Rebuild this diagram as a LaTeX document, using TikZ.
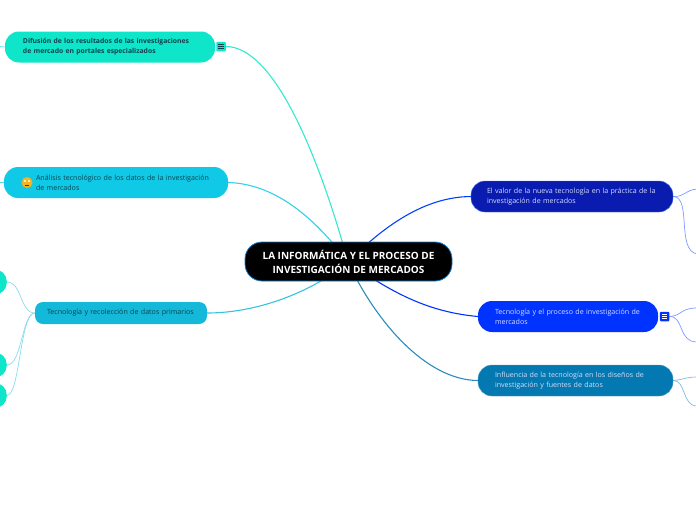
\documentclass[tikz,border=0pt]{standalone}
\usepackage{fontspec}
\setmainfont{Open Sans}
\usepackage{xcolor}
\usetikzlibrary{positioning, calc, backgrounds}

\definecolor{rootblue}{HTML}{1A7FC8}
\definecolor{tealbox}{HTML}{0FE5C8}
\definecolor{cyanbox}{HTML}{10C9E6}
\definecolor{skybox}{HTML}{14B8D8}
\definecolor{navybox}{HTML}{0A1CB0}
\definecolor{bluebox}{HTML}{0033FF}
\definecolor{oceanbox}{HTML}{0478B0}
\definecolor{darktext}{HTML}{0B4450}
\definecolor{palebluetext}{HTML}{D6DDFC}
\definecolor{facegold}{HTML}{F4B41E}

\tikzset{
  topicbox/.style={rounded corners=14pt, minimum height=31pt, inner xsep=0pt, inner ysep=0pt, align=left, font=\fontsize{7.1}{10}\selectfont},
  leafbox/.style={rounded corners=12pt, fill=tealbox, minimum width=100pt, minimum height=25pt},
  notesicon/.style={rounded corners=1pt, minimum size=9.5pt, inner sep=0pt, path picture={
    \draw[#1, line width=0.8pt] ($(path picture bounding box.center)+(-2.6pt,-2.2pt)$) -- ++(5.2pt,0) ++(-5.2pt,2.2pt) -- ++(5.2pt,0) ++(-5.2pt,2.2pt) -- ++(5.2pt,0);}},
  branch/.style={line width=1.1pt},
  twig/.style={line width=0.7pt}
}

\begin{document}
\begin{tikzpicture}[x=1pt,y=-1pt]
    \useasboundingbox (0,0) rectangle (696,520);

    % Central topic
    \node[draw=rootblue, line width=0.8pt, fill=black, text=white, rounded corners=17pt, minimum width=207pt, minimum height=39pt, align=center, font=\fontsize{10}{14}\selectfont\bfseries] (root) at (348.5,261.5) {LA INFORMÁTICA Y EL PROCESO DE\\INVESTIGACIÓN DE MERCADOS};
    \coordinate (hub) at (348,262);

    % Left side
    \node[topicbox, fill=tealbox, text=darktext, minimum width=210pt, text width=174pt, font=\fontsize{6.8}{10}\selectfont\bfseries] (difusion) at (110,47) {Difusión de los resultados de las investigaciones\\de mercado en portales especializados};
    \node[notesicon=darktext, fill=tealbox] (difusionicon) at (221,46.5) {};
    \node[topicbox, fill=cyanbox, text=darktext, minimum width=224pt, text width=192pt] (analisis) at (116,182.5) {\hspace*{16pt}Análisis tecnológico de los datos de la investigación\\\hspace*{16pt}de mercados};
    \node[circle, fill=facegold, minimum size=11pt, inner sep=0pt] (analisisface) at (27,182.5) {};
    \fill[white] (25,181) circle (1.2pt) (29,181) circle (1.2pt);
    \draw[darktext, line width=0.3pt] (25,185) -- (29,185);
    \node[topicbox, fill=skybox, text=darktext, rounded corners=8pt, minimum width=172pt, minimum height=22pt, text width=148pt] (recoleccion) at (121,313) {\raisebox{-1.5pt}{Tecnología y recolección de datos primarios}};
    \node[leafbox, anchor=east] (leafa) at (7,282) {};
    \node[leafbox, anchor=east] (leafb) at (7,365) {};
    \node[leafbox, anchor=east] (leafc) at (7,395.5) {};
    \coordinate (stuba) at (0,46.5);
    \coordinate (stubb) at (0,182.5);

    % Right side
    \node[topicbox, draw=bluebox!70!white, line width=0.4pt, fill=navybox, text=palebluetext, minimum width=202pt, text width=170pt] (valor) at (572,196.5) {El valor de la nueva tecnología en la práctica de la\\investigación de mercados};
    \node[topicbox, fill=bluebox, text=palebluetext, minimum width=180pt, text width=146pt] (proceso) at (568,316.5) {Tecnología y el proceso de investigación de\\mercados};
    \node[notesicon=white, fill=bluebox] (procesoicon) at (664.5,316.5) {};
    \node[topicbox, draw=oceanbox!70!white, line width=0.4pt, fill=oceanbox, text=palebluetext, minimum width=195pt, text width=161pt] (influencia) at (575.5,380.5) {Influencia de la tecnología en los diseños de\\investigación y fuentes de datos};
    \coordinate (valorup) at (697,189);
    \coordinate (valordown) at (697,254);
    \coordinate (procesoup) at (697,308);
    \coordinate (procesodown) at (697,342);
    \coordinate (influenciaup) at (697,377);
    \coordinate (influenciadown) at (697,406);

    % Connectors
    \begin{scope}[on background layer]
      \draw[branch, tealbox!85!white] (difusionicon.east) .. controls (275,46.5) and (320,160) .. (hub);
      \draw[branch, cyanbox!85!white] (analisis.east) .. controls (280,184) and (320,225) .. (hub);
      \draw[branch, skybox!85!white] (recoleccion.east) .. controls (260,313) and (315,290) .. (hub);
      \draw[branch, blue!75!cyan] (valor.west) .. controls (425,197) and (385,225) .. (hub);
      \draw[branch, bluebox] (proceso.west) .. controls (430,312) and (395,295) .. (hub);
      \draw[branch, oceanbox!85!white] (influencia.west) .. controls (425,380) and (375,320) .. (hub);

      \draw[twig, tealbox!70!white] (difusion.west) -- (stuba);
      \draw[twig, cyanbox!70!white] (analisis.west) -- (stubb);
      \draw[twig, skybox!50!white] (recoleccion.west) .. controls (20,313) and (22,282) .. (leafa.east);
      \draw[twig, skybox!50!white] (recoleccion.west) .. controls (22,313) and (22,365) .. (leafb.east);
      \draw[twig, skybox!50!white] (recoleccion.west) .. controls (20,313) and (20,395) .. (leafc.east);
      \draw[twig, bluebox!50!white] (valor.east) .. controls (685,197) and (685,190) .. (valorup);
      \draw[twig, bluebox!50!white] (valor.east) .. controls (692,197) and (676,250) .. (valordown);
      \draw[twig, bluebox!50!white] (procesoicon.east) .. controls (682,316) and (680,308) .. (procesoup);
      \draw[twig, bluebox!50!white] (procesoicon.east) .. controls (684,316) and (678,342) .. (procesodown);
      \draw[twig, oceanbox!50!white] (influencia.east) .. controls (682,380) and (686,377) .. (influenciaup);
      \draw[twig, oceanbox!50!white] (influencia.east) .. controls (686,380) and (682,406) .. (influenciadown);
    \end{scope}
\end{tikzpicture}
\end{document}
